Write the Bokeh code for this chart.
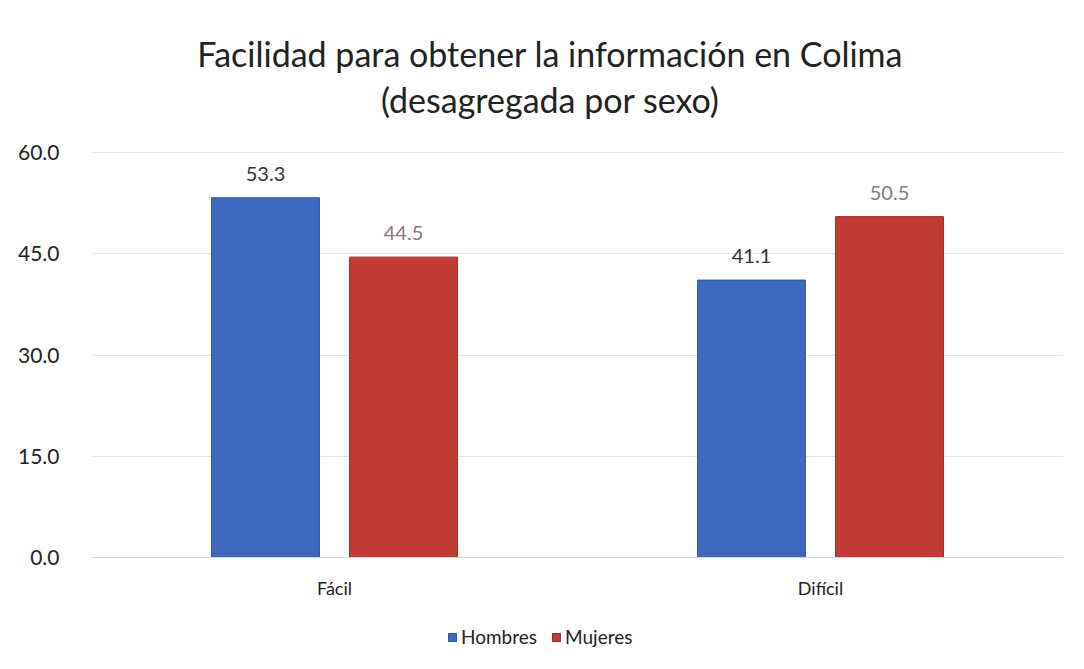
from bokeh.plotting import figure
from bokeh.models import (ColumnDataSource, FactorRange, Range1d, Legend,
                          LegendItem, NumeralTickFormatter, FixedTicker, Span)
from bokeh.transform import dodge
from bokeh.embed import file_html
from bokeh.resources import INLINE
from bokeh.core.properties import value

categories = ["Fácil", "Difícil"]
hombres = [53.3, 41.1]
mujeres = [44.5, 50.5]
y_ticks = [0, 15, 30, 45, 60]
title_line1 = "Facilidad para obtener la información en Colima"
title_line2 = "(desagregada por sexo)"

FONT = "Lato"

src = ColumnDataSource(data=dict(
    cat=categories,
    hombres=hombres,
    mujeres=mujeres,
    h_lab=[f"{v:.1f}" for v in hombres],
    m_lab=[f"{v:.1f}" for v in mujeres],
))

# frame covers the whole canvas height; value axis 0..60 sits in its middle
p = figure(x_range=FactorRange(*categories, range_padding=0),
           y_range=Range1d(-15.26, 82.52),
           frame_width=972, frame_height=660,
           min_border_left=91, min_border_right=9,
           min_border_top=0, min_border_bottom=0,
           output_backend="svg", toolbar_location=None, title=None)

rh = p.vbar(x=dodge("cat", -0.142, range=p.x_range), top="hombres", width=0.222,
            source=src, fill_color="#3F68C1", line_color="#2F55A8")
rm = p.vbar(x=dodge("cat", 0.142, range=p.x_range), top="mujeres", width=0.222,
            source=src, fill_color="#C23C36", line_color="#9E2A26")

p.text(x=dodge("cat", -0.142, range=p.x_range), y="hombres", text="h_lab",
       source=src, text_align="center", text_baseline="bottom", y_offset=-17,
       text_font=value(FONT), text_font_size="20px", text_color="#333333")
p.text(x=dodge("cat", 0.142, range=p.x_range), y="mujeres", text="m_lab",
       source=src, text_align="center", text_baseline="bottom", y_offset=-17,
       text_font=value(FONT), text_font_size="20px", text_color="#857878")

# category labels under the baseline
p.text(x="cat", y=0, text="cat", source=src, text_align="center",
       text_baseline="middle", y_offset=31, text_font=value(FONT),
       text_font_size="18px", text_color="#222222")

# title (two lines), centred over the chart
p.text(x=[0.944, 0.944], y=[74.6, 67.8], text=[title_line1, title_line2],
       text_align="center", text_baseline="middle", text_font=value(FONT),
       text_font_size="34px", text_color="#222222")

p.add_layout(Span(location=0, dimension="width", line_color="#D6D6D6",
                  line_width=1))

p.yaxis.ticker = FixedTicker(ticks=y_ticks)
p.yaxis.formatter = NumeralTickFormatter(format="0.0")
p.yaxis.axis_line_color = None
p.yaxis.major_tick_line_color = None
p.yaxis.minor_tick_line_color = None
p.yaxis.major_label_text_font = FONT
p.yaxis.major_label_text_font_size = "21px"
p.yaxis.major_label_text_color = "#222222"
p.yaxis.major_label_standoff = 26

p.xaxis.visible = False
p.xgrid.grid_line_color = None
p.ygrid.ticker = FixedTicker(ticks=y_ticks)
p.ygrid.grid_line_color = "#E3E3E3"
p.outline_line_color = None

legend = Legend(items=[LegendItem(label="Hombres", renderers=[rh]),
                       LegendItem(label="Mujeres", renderers=[rm])],
                orientation="horizontal", location=(356, 12),
                label_text_font=FONT, label_text_font_size="19px",
                label_text_color="#222222", glyph_width=10, glyph_height=10,
                label_standoff=4, spacing=14, border_line_color=None,
                background_fill_alpha=0, margin=0, padding=4)
p.add_layout(legend, "center")

open("out.html", "w").write(file_html(p, INLINE))
